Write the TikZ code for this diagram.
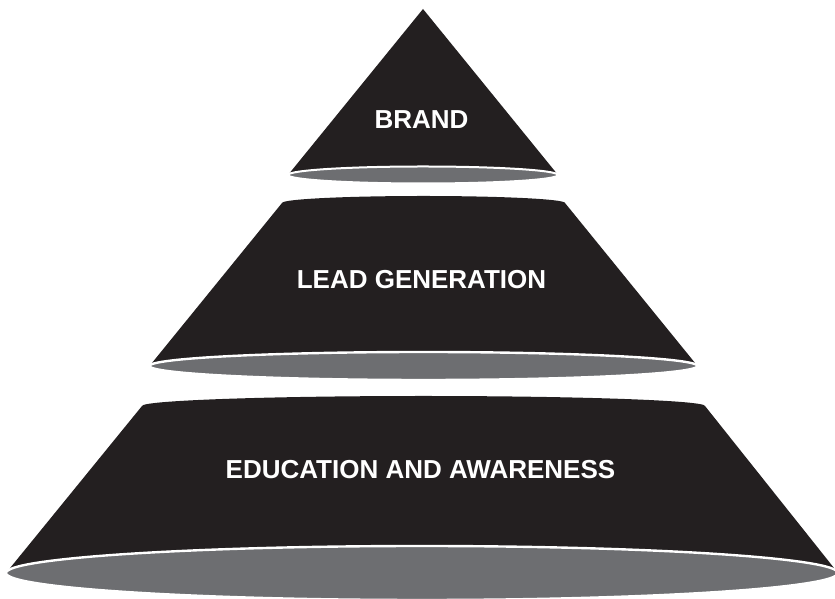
\documentclass[tikz,border=0pt]{standalone}
\usepackage{fontspec}
\setmainfont{Liberation Sans}
\definecolor{pyrblack}{HTML}{231F20}
\definecolor{pyrgrey}{HTML}{6D6E71}
\tikzset{
  tier/.style={fill=pyrblack, draw=none},
  base/.style={fill=pyrgrey, draw=white},
  label/.style={text=white, font=\fontsize{26}{30}\selectfont\bfseries, anchor=base, inner sep=0pt}
}
\begin{document}
\begin{tikzpicture}[x=1pt,y=1pt]
\useasboundingbox (0,0) rectangle (835,599);
\clip (0,0) rectangle (835,599);
% bottom tier
\fill[tier] (6,26) -- (142,193) arc[start angle=180, end angle=0, x radius=281.5pt, y radius=10pt] -- (838,26) -- cycle;
\draw[base, line width=2.4pt] (422,26) ellipse[x radius=416pt, y radius=27pt];
% middle tier
\fill[tier] (149.5,233) -- (282,396) arc[start angle=180, end angle=0, x radius=141.5pt, y radius=7pt] -- (697.5,233) -- cycle;
\draw[base, line width=2.4pt] (423.5,233) ellipse[x radius=274pt, y radius=14pt];
% top tier
\fill[tier] (288,424) -- (423,590) -- (558,424) -- cycle;
\draw[base, line width=2pt] (423,424) ellipse[x radius=135pt, y radius=8.5pt];
% labels
\node[label] (brand) at (421.5,470) {BRAND};
\node[label] (lead) at (421.5,310) {LEAD GENERATION};
\node[label] (edu) at (420.5,120) {EDUCATION AND AWARENESS};
\end{tikzpicture}
\end{document}
